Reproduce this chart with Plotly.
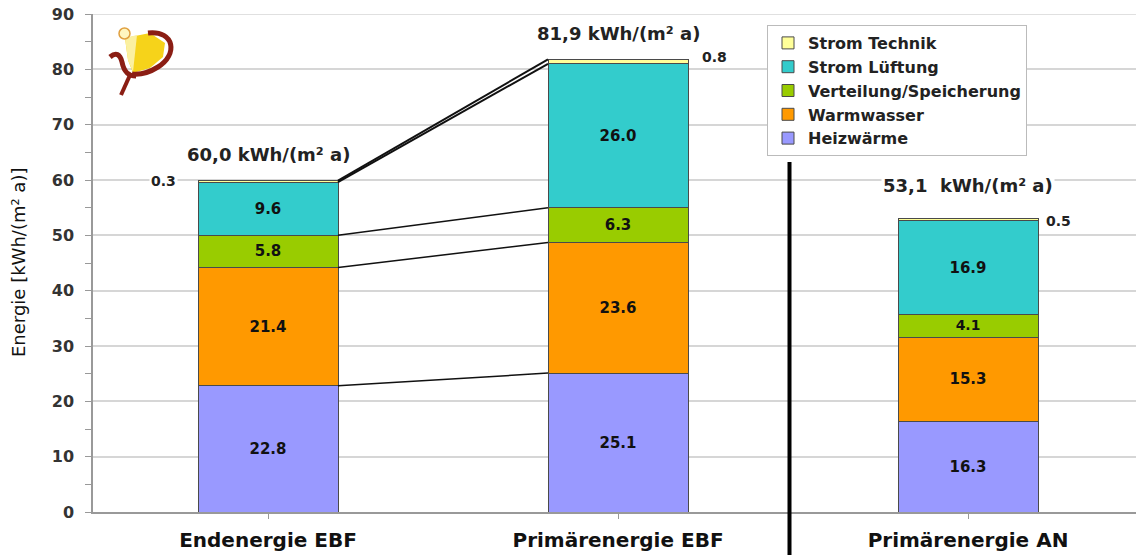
import plotly.graph_objects as go

# ---------------- data ----------------
categories = ["Endenergie EBF", "Primärenergie EBF", "Primärenergie AN"]
heizwaerme = [22.8, 25.1, 16.3]
warmwasser = [21.4, 23.6, 15.3]
verteilung = [5.8, 6.3, 4.1]
strom_lueftung = [9.6, 26.0, 16.9]
strom_technik = [0.3, 0.8, 0.5]
total_labels = ["60,0 kWh/(m² a)", "81,9 kWh/(m² a)", "53,1  kWh/(m² a)"]
y_max = 90

series = [
    ("Heizwärme", heizwaerme, "#9999FF"),
    ("Warmwasser", warmwasser, "#FF9900"),
    ("Verteilung/Speicherung", verteilung, "#99CC00"),
    ("Strom Lüftung", strom_lueftung, "#33CCCC"),
    ("Strom Technik", strom_technik, "#FFFF99"),
]

FONT = "DejaVu Sans"
W, H = 1136, 555
ML, MR, MT, MB = 93, 0, 14, 43
PW, PH = W - ML - MR, H - MT - MB
TOP, LEFT = MT, ML
GRID = "#d6d6d6"

fig = go.Figure()
xs = list(range(len(categories)))
for name, vals, col in series:
    small = name == "Strom Technik"
    fig.add_trace(go.Bar(
        name=name, x=xs, y=vals, width=0.4,
        marker=dict(color=col, line=dict(color="#4a4a4a", width=1)),
        text=None if small else [f"{v:.1f}" for v in vals],
        textposition="none" if small else "inside",
        insidetextanchor="middle",
        textangle=0,
        textfont=dict(family=FONT, size=15, color="#111", weight="bold"),
        cliponaxis=False,
    ))

# cumulative boundaries
cums = []
acc = [0.0] * len(categories)
for _, vals, _ in series:
    acc = [a + v for a, v in zip(acc, vals)]
    cums.append(list(acc))
totals = cums[-1]

# connector lines between bar 1 and bar 2
for i, c in enumerate(cums):
    fig.add_trace(go.Scatter(
        x=[xs[0] + 0.2, xs[1] - 0.2], y=[c[0], c[1]], mode="lines",
        line=dict(color="#111", width=2 if i >= 3 else 1.5),
        showlegend=False, hoverinfo="skip",
    ))

annotations = []
# totals
shifts = [26, 26, 33]
for i, lab in enumerate(total_labels):
    annotations.append(dict(
        x=xs[i], y=totals[i], yshift=shifts[i], text=lab, showarrow=False,
        font=dict(family=FONT, size=18, color="#222", weight="bold"),
        bgcolor="white", xanchor="center", yanchor="middle",
    ))
# small values
small_pos = [("right", -0.2, -20, 0), ("left", 0.2, 12, 2), ("left", 0.2, 6, -3)]
for i, v in enumerate(strom_technik):
    anchor, dx, xs_, ys_ = small_pos[i]
    annotations.append(dict(
        x=xs[i] + dx, y=totals[i], xshift=xs_, yshift=ys_, text=f"{v:.1f}",
        showarrow=False, xanchor=anchor, yanchor="middle",
        font=dict(family=FONT, size=14, color="#222", weight="bold"),
        bgcolor="white",
    ))


def PX(px):
    return (px - LEFT) / PW


def PY(py):
    return (TOP + PH - py) / PH


# y title
annotations.append(dict(
    x=PX(18), y=PY(263), xref="paper", yref="paper",
    text="Energie [kWh/(m² a)]", textangle=-90, showarrow=False,
    font=dict(family=FONT, size=18, color="#111"),
    xanchor="center", yanchor="middle",
))


def P(px, py):
    return f"{PX(px):.5f},{PY(py):.5f}"


shapes = [
    # top gridline (plotly drops grid lines at the plot edge)
    dict(type="line", xref="paper", yref="y", x0=0, x1=1, y0=y_max, y1=y_max,
         line=dict(color=GRID, width=1.5), layer="below"),
    # separator
    dict(type="line", xref="x", yref="paper", x0=1.49, x1=1.49,
         y0=PY(560), y1=PY(162),
         line=dict(color="black", width=4)),
    # logo: yellow body
    dict(type="path", xref="paper", yref="paper",
         path=f"M{P(125,38)} L{P(150,33)} L{P(165,43)} L{P(163,57)} L{P(150,68)} L{P(133,73)} L{P(128,60)} Z",
         fillcolor="#F6D31A", line=dict(width=0)),
    dict(type="path", xref="paper", yref="paper",
         path=f"M{P(125,38)} L{P(137,35)} L{P(133,72)} L{P(128,60)} Z",
         fillcolor="#FBF0A0", line=dict(width=0)),
    # logo: dark red arc
    dict(type="path", xref="paper", yref="paper",
         path=f"M{P(148,33)} C{P(175,30)} {P(178,55)} {P(158,67)} C{P(150,72)} {P(140,75)} {P(132,74)}",
         line=dict(color="#8B1E14", width=5)),
    # logo: left hook
    dict(type="path", xref="paper", yref="paper",
         path=f"M{P(110,57)} C{P(116,52)} {P(120,54)} {P(122,62)} C{P(124,72)} {P(128,76)} {P(136,76)}",
         line=dict(color="#8B1E14", width=5)),
    # logo: stem
    dict(type="line", xref="paper", yref="paper",
         x0=PX(130), y0=PY(75), x1=PX(121), y1=PY(95),
         line=dict(color="#8B1E14", width=4)),
    # logo: small circle
    dict(type="circle", xref="paper", yref="paper",
         x0=PX(119), x1=PX(130), y0=PY(39), y1=PY(28),
         fillcolor="#FFF6C0", line=dict(color="#E0A040", width=1.5)),
]

fig.update_layout(
    width=W, height=H,
    margin=dict(l=ML, r=MR, t=MT, b=MB, autoexpand=False),
    paper_bgcolor="white", plot_bgcolor="white",
    barmode="stack", bargap=0.6,
    showlegend=True,
    legend=dict(
        x=PX(767), y=PY(25), xanchor="left", yanchor="top",
        traceorder="reversed", bgcolor="white",
        bordercolor="#bbbbbb", borderwidth=1,
        font=dict(family=FONT, size=16, color="#222", weight="bold"),
        itemwidth=30,
    ),
    xaxis=dict(
        range=[-0.5, 2.48], tickmode="array", tickvals=xs, ticktext=categories,
        tickson="boundaries", ticks="outside", ticklen=5, tickcolor="#999",
        showline=True, linecolor="#999", linewidth=1.5,
        showgrid=False, zeroline=False,
        tickfont=dict(family=FONT, size=20, color="#111", weight="bold"),
        ticklabelstandoff=4,
    ),
    yaxis=dict(
        range=[0, y_max], dtick=10, ticks="outside", ticklen=6, tickcolor="#999",
        showline=True, linecolor="#999", linewidth=1.5,
        showgrid=True, gridcolor=GRID, gridwidth=1.5, zeroline=False,
        minor=dict(dtick=5, ticks="outside", ticklen=6, tickcolor="#999", showgrid=False),
        tickfont=dict(family=FONT, size=16, color="#333", weight="bold"),
        ticklabelstandoff=8, ticklabeloverflow="allow",
    ),
    annotations=annotations,
    shapes=shapes,
)

fig.write_html(
    "out.html",
    config={"displayModeBar": False},
    post_script="document.body.style.margin='0';document.body.style.overflow='hidden';",
)
